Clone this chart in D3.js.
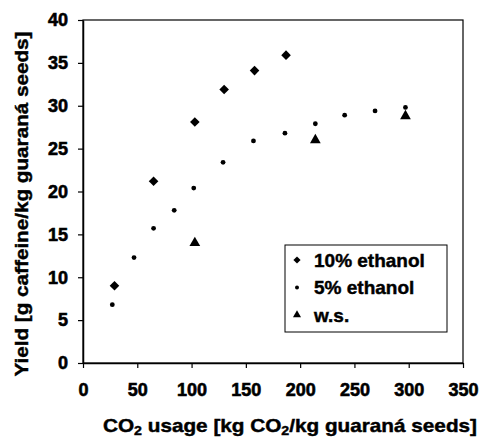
<!DOCTYPE html>
<html>
<head>
<meta charset="utf-8">
<script src="https://cdn.jsdelivr.net/npm/d3@7"></script>
<style>
  body { margin: 0; background: #fff; }
  text { font-family: "Liberation Sans", Arial, sans-serif; font-weight: bold; fill: #000; stroke: #000; stroke-width: 0.45px; }
</style>
</head>
<body>
<script>
// Data
var eth10X = [29, 65, 103, 130, 158, 187];
var eth10Y = [9.0, 21.2, 28.1, 31.9, 34.1, 35.9];

var eth5X = [27, 47, 65, 84, 102, 129, 157, 186, 214, 241, 269, 297];
var eth5Y = [6.8, 12.3, 15.7, 17.8, 20.4, 23.4, 25.9, 26.8, 27.9, 28.9, 29.4, 29.8];

var wsX = [103, 214, 297];
var wsY = [14.0, 26.0, 28.8];

var xTicks = [0, 50, 100, 150, 200, 250, 300, 350];
var yTicks = [0, 5, 10, 15, 20, 25, 30, 35, 40];
var seriesNames = ['10% ethanol', '5% ethanol', 'w.s.'];

// Size of the page and plot box
var width = 481,
  height = 441;
var margin = { top: 20, right: 18, bottom: 78, left: 83 };
var plotW = width - margin.left - margin.right,
  plotH = height - margin.top - margin.bottom;

var svg = d3.select('body')
  .append('svg')
  .attr('width', width)
  .attr('height', height);

var g = svg.append('g')
  .attr('transform', 'translate(' + margin.left + ',' + margin.top + ')');

var x = d3.scaleLinear().domain([0, 350]).range([0, plotW]);
var y = d3.scaleLinear().domain([0, 40]).range([plotH, 0]);

// Frame
g.append('rect')
  .attr('width', plotW)
  .attr('height', plotH)
  .attr('fill', 'none')
  .attr('stroke', '#000')
  .attr('stroke-width', 1.2);

// Axes
var xAxis = g.append('g')
  .attr('transform', 'translate(0,' + plotH + ')')
  .call(d3.axisBottom(x).tickValues(xTicks).tickSize(5).tickSizeOuter(0).tickPadding(15));

var yAxis = g.append('g')
  .call(d3.axisLeft(y).tickValues(yTicks).tickSize(5).tickSizeOuter(0).tickPadding(10));

[xAxis, yAxis].forEach(function(ax) {
  ax.select('.domain').attr('stroke', '#000').attr('stroke-width', 1.5);
  ax.selectAll('line').attr('stroke', '#000').attr('stroke-width', 1.2);
  ax.selectAll('text')
    .style('font-family', '"Liberation Sans", Arial, sans-serif')
    .style('font-weight', 'bold')
    .style('font-size', '18px')
    .style('stroke-width', '0.6px')
    .attr('fill', '#000');
});

// Markers
var diamond = d3.symbol().type(d3.symbolSquare).size(46);
var triangle = d3.symbol().type(d3.symbolTriangle).size(50);

g.selectAll('.eth5')
  .data(eth5X)
  .enter()
  .append('circle')
  .attr('class', 'eth5')
  .attr('cx', function(d) { return x(d); })
  .attr('cy', function(d, i) { return y(eth5Y[i]); })
  .attr('r', 2.4)
  .attr('fill', '#000');

g.selectAll('.eth10')
  .data(eth10X)
  .enter()
  .append('path')
  .attr('class', 'eth10')
  .attr('d', diamond)
  .attr('transform', function(d, i) {
    return 'translate(' + x(d) + ',' + y(eth10Y[i]) + ') rotate(45)';
  })
  .attr('fill', '#000');

g.selectAll('.ws')
  .data(wsX)
  .enter()
  .append('path')
  .attr('class', 'ws')
  .attr('d', triangle)
  .attr('transform', function(d, i) {
    return 'translate(' + x(d) + ',' + y(wsY[i]) + ')';
  })
  .attr('fill', '#000');

// Legend
var legend = svg.append('g').attr('transform', 'translate(285,245)');
legend.append('rect')
  .attr('width', 162)
  .attr('height', 87)
  .attr('fill', '#fff')
  .attr('stroke', '#000')
  .attr('stroke-width', 1);

var rows = legend.selectAll('.row')
  .data(seriesNames)
  .enter()
  .append('g')
  .attr('class', 'row')
  .attr('transform', function(d, i) { return 'translate(12,' + (15 + i * 27.5) + ')'; });

rows.each(function(d, i) {
  var r = d3.select(this);
  if (i === 0) {
    r.append('path').attr('d', d3.symbol().type(d3.symbolSquare).size(26)).attr('transform', 'rotate(45)');
  } else if (i === 1) {
    r.append('circle').attr('r', 2);
  } else {
    r.append('path').attr('d', d3.symbol().type(d3.symbolTriangle).size(28));
  }
});

rows.append('text')
  .attr('x', 17)
  .attr('dy', '0.36em')
  .style('font-size', '19px')
  .text(function(d) { return d; });

// Axis titles
var xTitle = svg.append('text')
  .attr('x', 290)
  .attr('y', 432)
  .attr('text-anchor', 'middle')
  .attr('textLength', 374)
  .attr('lengthAdjust', 'spacingAndGlyphs')
  .style('font-size', '19px');
xTitle.append('tspan').text('CO');
xTitle.append('tspan').attr('dy', 3).style('font-size', '13px').text('2');
xTitle.append('tspan').attr('dy', -3).text(' usage [kg CO');
xTitle.append('tspan').attr('dy', 3).style('font-size', '13px').text('2');
xTitle.append('tspan').attr('dy', -3).text('/kg guaraná seeds]');

svg.append('text')
  .attr('transform', 'translate(28,204) rotate(-90)')
  .attr('text-anchor', 'middle')
  .attr('textLength', 345)
  .attr('lengthAdjust', 'spacingAndGlyphs')
  .style('font-size', '19px')
  .text('Yield [g caffeine/kg guaraná seeds]');
</script>
</body>
</html>
